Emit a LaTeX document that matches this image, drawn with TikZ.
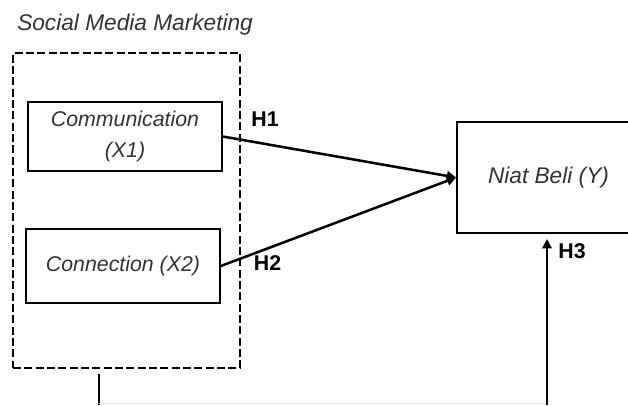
\documentclass[tikz,border=0pt]{standalone}
\usepackage{fontspec}
\setmainfont{Liberation Sans}
\usetikzlibrary{arrows.meta,positioning}
\definecolor{ink}{HTML}{333333}

\begin{document}
\begin{tikzpicture}[x=0.75pt,y=-0.75pt,
  var/.style={draw,line width=1.3pt,inner sep=0pt,align=center,text=ink,
    font=\fontsize{16}{23}\selectfont\itshape},
  hyp/.style={inner sep=0pt,font=\fontsize{16}{19}\selectfont\bfseries},
  link/.style={line width=1.9pt,-{Triangle[length=7pt,width=7pt]}}]
  \useasboundingbox (0,0) rectangle (628,405);
  \node[anchor=base west,inner sep=0pt,text=ink,font=\fontsize{17}{19}\selectfont\itshape] (smmlabel) at (17,30) {Social Media Marketing};
  \node[draw,line width=1pt,dash pattern=on 6pt off 2.5pt,minimum width=170.25pt,minimum height=236.25pt] (smm) at (126.5,210.5) {};
  \node[var,minimum width=145.5pt,minimum height=51.75pt] (comm) at (125,136.5) {Communication\\(X1)};
  \node[var,minimum width=145.5pt,minimum height=55.5pt] (conn) at (123,266) {Connection (X2)};
  \node[var,minimum width=137.25pt,minimum height=83.25pt,font=\fontsize{17}{19}\selectfont\itshape] (niat) at (548.5,177.5) {Niat Beli (Y)};
  % X1, X2 -> Y
  \draw[link] (comm.east) -- (niat.west);
  \draw[link] (conn.east) -- (niat.west);
  \node[hyp] (h1) at (265,119) {H1};
  \node[hyp] (h2) at (267.5,263.5) {H2};
  % joint path from the SMM block up to Y
  \coordinate (drop) at (99,374);
  \coordinate (floor) at (99,405);
  \coordinate (rise) at (547,405);
  \coordinate (tip) at (547,239);
  \draw[line width=1.9pt] (drop) -- (floor);
  \draw[black!12,line width=0.8pt] ([yshift=1.1pt]floor) -- ([yshift=1.1pt]rise);
  \draw[link] (rise) -- (tip);
  \node[hyp] (h3) at (572,251.5) {H3};
\end{tikzpicture}
\end{document}
